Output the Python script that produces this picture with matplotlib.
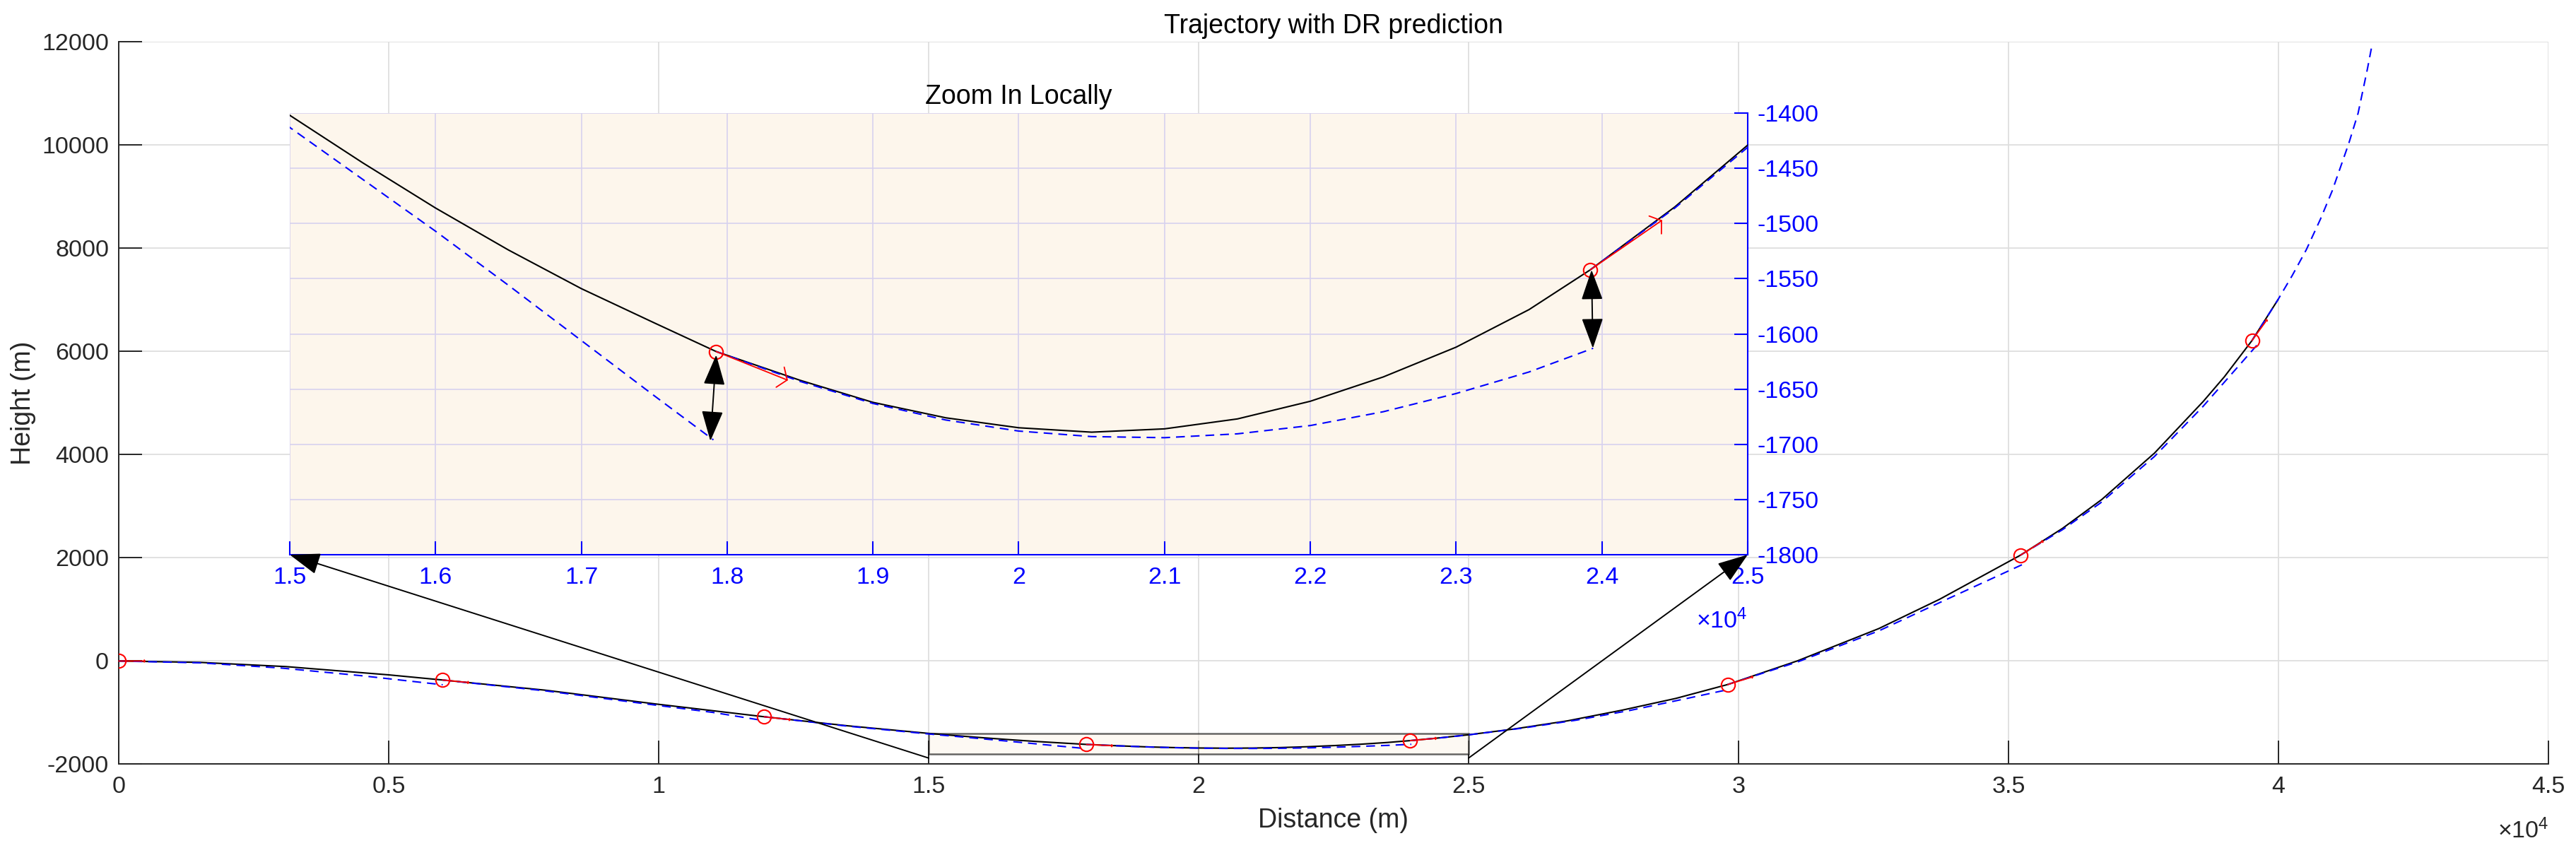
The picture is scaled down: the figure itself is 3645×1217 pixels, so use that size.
import matplotlib.pyplot as plt
from matplotlib.patches import Rectangle

plt.rcParams['font.family'] = ['Liberation Sans', 'DejaVu Sans']
plt.rcParams['mathtext.fontset'] = 'custom'
plt.rcParams['mathtext.rm'] = 'Liberation Sans'
plt.rcParams['mathtext.it'] = 'Liberation Sans'
plt.rcParams['axes.unicode_minus'] = False

# true trajectory
true_x = [0, 1500, 3100, 5000, 6000, 7900, 10000, 11956, 13500,
          15000, 15500, 16000, 16500, 17000, 17500, 17925, 18500, 19000, 19500,
          20000, 20500, 21000, 21500, 22000, 22500, 23000, 23500, 23920, 24500,
          25000, 25835, 26838, 27839, 28840, 29800, 31093, 32596, 33723, 35220,
          36000, 36728, 37705, 38607, 39000, 39510, 39990]
true_y = [0, -26, -108, -268, -368, -565, -839, -1080, -1255,
          -1402, -1445, -1486, -1524, -1559, -1590, -1616, -1642, -1662, -1676,
          -1685, -1689, -1686, -1677, -1661, -1639, -1612, -1578, -1542, -1485,
          -1429, -1318, -1158, -953, -724, -455, 4, 628, 1196, 2050,
          2570, 3130, 4030, 5030, 5510, 6210, 7000]

# DR prediction segments, one per fix
pred_x = [[0, 1500, 3000, 4500, 6000],
          [6000, 7900, 10000, 11000, 11950],
          [11956, 13500, 15000, 15500, 16000, 16500, 17000, 17500, 17906],
          [17925, 18500, 19000, 19500, 20000, 20500, 21000, 21500, 22000, 22500,
           23000, 23500, 23940],
          [23920, 24500, 25000, 26000, 27000, 28000, 29000, 29800],
          [29800, 31100, 32600, 33700, 35300],
          [35220, 36000, 36700, 37700, 38600, 39660],
          [39510, 39990, 40253, 40515, 40777, 40995, 41300, 41475, 41649, 41737]]
pred_y = [[0, -35, -135, -285, -460],
          [-368, -578, -862, -995, -1155],
          [-1080, -1262, -1413, -1460, -1507, -1556, -1606, -1656, -1696],
          [-1616, -1643, -1663, -1678, -1688, -1693, -1694, -1690.5, -1683, -1670.5,
           -1654, -1634.5, -1613],
          [-1542, -1486, -1431, -1300, -1145, -955, -735, -555],
          [-455, -15, 585, 1120, 1890],
          [2050, 2545, 3060, 3960, 4930, 6190],
          [6210, 7000, 7466, 7968, 8561, 9109, 10022, 10615, 11481, 11960]]

# position fixes and velocity vectors
fix_x = [0, 6000, 11956, 17925, 23920, 29800, 35220, 39510]
fix_y = [0, -368, -1080, -1616, -1542, -455, 2050, 6210]
vel_dx = [500, 495, 490, 492, 493, 475, 430, 284]
vel_dy = [0, -50, -58, -26, 45, 152, 280, 411]

# error arrows shown in the zoomed view
err_x0 = [17925, 23929]
err_y0 = [-1619, -1542]
err_x1 = [17885, 23938]
err_y1 = [-1697, -1613]

zoom_xlim = [15000, 25000]
zoom_ylim = [-1800, -1400]
arrow_start_y = -1880

main_xticks = [0, 5000, 10000, 15000, 20000, 25000, 30000, 35000, 40000, 45000]
main_xlabels = ['0', '0.5', '1', '1.5', '2', '2.5', '3', '3.5', '4', '4.5']
main_yticks = [-2000, 0, 2000, 4000, 6000, 8000, 10000, 12000]
zoom_xticks = [15000, 16000, 17000, 18000, 19000, 20000, 21000, 22000, 23000, 24000, 25000]
zoom_xlabels = ['1.5', '1.6', '1.7', '1.8', '1.9', '2', '2.1', '2.2', '2.3', '2.4', '2.5']
zoom_yticks = [-1800, -1750, -1700, -1650, -1600, -1550, -1500, -1450, -1400]

dark = '#262626'
cream = '#fdf6ec'

fig = plt.figure(figsize=(36.45, 12.17), dpi=100)
ax = fig.add_axes([0.04609, 0.11134, 0.94321, 0.84018])


def draw_curves(a, head_scale):
    a.plot(true_x, true_y, color='black', lw=1.5, zorder=3)
    for px, py in zip(pred_x, pred_y):
        a.plot(px, py, color='blue', lw=1.5, ls=(0, (6, 4)), zorder=4)
    for x0, y0, dx, dy in zip(fix_x, fix_y, vel_dx, vel_dy):
        a.annotate('', xy=(x0 + dx, y0 + dy), xytext=(x0, y0),
                   arrowprops=dict(arrowstyle='->,head_length=0.35,head_width=0.5',
                                   color='red', lw=1.3, shrinkA=0, shrinkB=0,
                                   mutation_scale=head_scale), zorder=5)
    a.plot(fix_x, fix_y, 'o', ms=14, mfc='none', mec='red', mew=1.5, zorder=6)


# main axes
draw_curves(ax, 2)
ax.add_patch(Rectangle((zoom_xlim[0], zoom_ylim[0]), zoom_xlim[1] - zoom_xlim[0],
                       zoom_ylim[1] - zoom_ylim[0], facecolor=cream, alpha=0.6,
                       edgecolor='black', lw=1.8, zorder=2))
ax.set_xlim(0, 45000)
ax.set_ylim(-2000, 12000)
ax.set_xticks(main_xticks)
ax.set_xticklabels(main_xlabels)
ax.set_yticks(main_yticks)
ax.grid(True, color='#dedede', lw=1.3)
ax.set_axisbelow(True)
for s in ['top', 'right']:
    ax.spines[s].set_visible(False)
for s in ['left', 'bottom']:
    ax.spines[s].set_color(dark)
    ax.spines[s].set_linewidth(1.4)
ax.tick_params(direction='in', length=24, width=1.4, colors=dark, labelsize=24.5)
ax.tick_params(axis='x', pad=12)
ax.tick_params(axis='y', pad=10)
ax.set_xlabel('Distance (m)', fontsize=27, color=dark, labelpad=10)
ax.set_ylabel('Height (m)', fontsize=27, color=dark, labelpad=6)
ax.set_title('Trajectory with DR prediction', fontsize=27, color='black', pad=9)
ax.text(1.0, -0.092, r'$\times10^{4}$', transform=ax.transAxes, ha='right', va='center',
        fontsize=24.5, color=dark)

# zoomed view
ax_in = fig.add_axes([0.11248, 0.35497, 0.56598, 0.51356])
ax_in.set_facecolor(cream)
draw_curves(ax_in, 22)
for x0, y0, x1, y1 in zip(err_x0, err_y0, err_x1, err_y1):
    ax_in.annotate('', xy=(x1, y1), xytext=(x0, y0),
                   arrowprops=dict(arrowstyle='<|-|>,head_length=0.45,head_width=0.16',
                                   color='black', lw=1.4, shrinkA=0, shrinkB=0,
                                   mutation_scale=60), zorder=7)
ax_in.set_xlim(zoom_xlim)
ax_in.set_ylim(zoom_ylim)
ax_in.set_xticks(zoom_xticks)
ax_in.set_xticklabels(zoom_xlabels)
ax_in.set_yticks(zoom_yticks)
ax_in.yaxis.tick_right()
ax_in.grid(True, color='#d7d1ef', lw=1.2)
ax_in.set_axisbelow(True)
for s in ['top', 'left']:
    ax_in.spines[s].set_visible(False)
for s in ['right', 'bottom']:
    ax_in.spines[s].set_color('blue')
    ax_in.spines[s].set_linewidth(1.5)
ax_in.tick_params(direction='in', length=14, width=1.5, colors='blue', labelsize=24.5)
ax_in.tick_params(axis='x', pad=12)
ax_in.tick_params(axis='y', pad=10)
ax_in.set_title('Zoom In Locally', fontsize=27, color='black', pad=9)
ax_in.text(1.0, -0.15, r'$\times10^{4}$', transform=ax_in.transAxes, ha='right', va='center',
           fontsize=24.5, color='blue')

# connectors from the boxed region to the zoomed view
for corner, xs in zip([(0, 0), (1, 0)], zoom_xlim):
    ax_in.annotate('', xy=corner, xycoords='axes fraction',
                   xytext=(xs, arrow_start_y), textcoords=ax.transData,
                   arrowprops=dict(arrowstyle='-|>,head_length=0.45,head_width=0.16',
                                   color='black', lw=1.4, shrinkA=0, shrinkB=0,
                                   mutation_scale=60),
                   annotation_clip=False, zorder=8)

fig.savefig('out.png', dpi=100)
